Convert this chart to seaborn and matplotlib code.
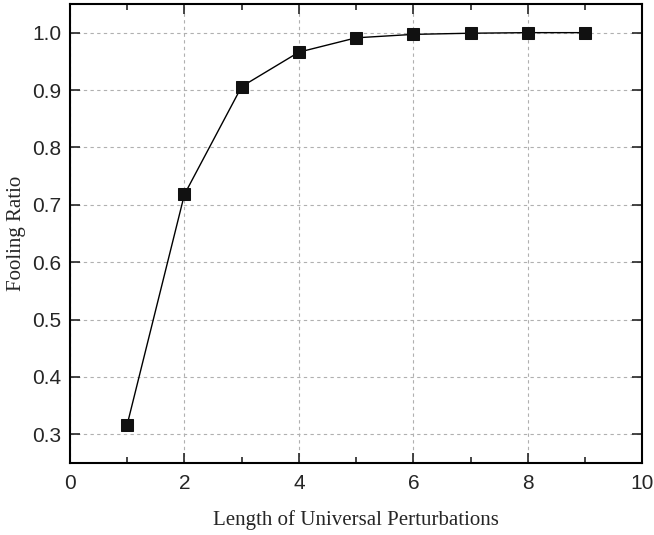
import matplotlib
matplotlib.use("Agg")
import matplotlib.pyplot as plt
import seaborn as sns
import pandas as pd
from matplotlib.ticker import MultipleLocator

lengths = [1, 2, 3, 4, 5, 6, 7, 8, 9]
fooling_ratio = [0.317, 0.718, 0.906, 0.966, 0.991, 0.997, 0.999, 1.0, 1.0]

df = pd.DataFrame({"length": lengths, "ratio": fooling_ratio})

sns.set_style("ticks")
fig = plt.figure(figsize=(6.54, 5.35), dpi=100)
ax = fig.add_axes([0.107, 0.1346, 0.875, 0.858])

sns.lineplot(data=df, x="length", y="ratio", ax=ax, color="black", linewidth=1.0,
             marker="s", markersize=9, markerfacecolor="#111111", markeredgecolor="#111111")

ax.set_xlim(0, 10)
ax.set_ylim(0.25, 1.05)
ax.xaxis.set_major_locator(MultipleLocator(2))
ax.xaxis.set_minor_locator(MultipleLocator(1))
ax.yaxis.set_major_locator(MultipleLocator(0.1))
ax.grid(True, which="major", linestyle=(0, (3, 3)), color="#b0b0b0", linewidth=0.8)
ax.tick_params(which="both", direction="in", top=True, right=True, width=1.2)
ax.tick_params(which="major", length=7, labelsize=15)
ax.tick_params(axis="x", which="major", pad=8)
ax.tick_params(axis="y", which="major", pad=6)
ax.tick_params(which="minor", length=4)
for lab in ax.get_xticklabels() + ax.get_yticklabels():
    lab.set_fontfamily("Liberation Sans")
for sp in ax.spines.values():
    sp.set_linewidth(1.5)
    sp.set_color("black")

ax.set_xlabel("Length of Universal Perturbations", fontfamily="Liberation Serif", fontsize=15, labelpad=12)
ax.set_ylabel("Fooling Ratio", fontfamily="Liberation Serif", fontsize=15, labelpad=5)
ax.yaxis.set_major_formatter(matplotlib.ticker.FormatStrFormatter("%.1f"))

fig.savefig("out.png", dpi=100)
